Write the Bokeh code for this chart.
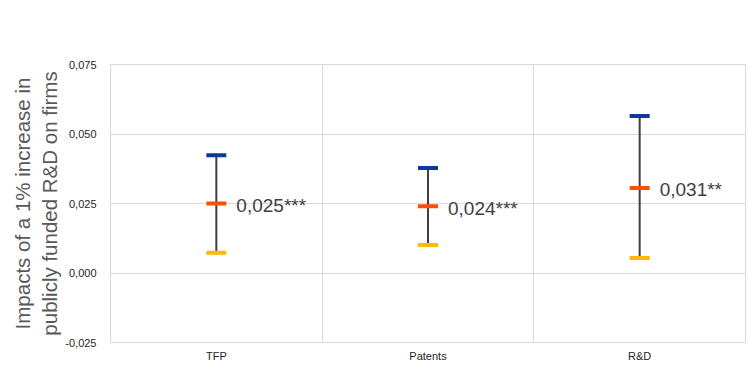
from bokeh.plotting import figure
from bokeh.models import FixedTicker, CustomJSTickFormatter, ColumnDataSource, Range1d
from bokeh.core.properties import value
from bokeh.embed import file_html
from bokeh.resources import INLINE

categories = ["TFP", "Patents", "R&D"]
upper = [0.0424, 0.0378, 0.0565]
estimate = [0.025, 0.024, 0.0306]
lower = [0.0073, 0.0101, 0.0054]
labels = ["0,025***", "0,024***", "0,031**"]
y_ticks = [-0.025, 0.0, 0.025, 0.05, 0.075]

xs = [i + 0.5 for i in range(len(categories))]
src = ColumnDataSource(dict(x=xs, up=upper, est=estimate, lo=lower, lab=labels))

p = figure(width=749, height=371, output_backend="svg", toolbar_location=None,
           x_range=Range1d(0, 3), y_range=Range1d(-0.025, 0.075),
           min_border_left=110, min_border_right=4, min_border_top=64, min_border_bottom=29)
p.outline_line_color = "#d9d9d9"
p.background_fill_color = "white"

p.xgrid.ticker = FixedTicker(ticks=[0, 1, 2, 3])
p.xgrid.grid_line_color = "#d9d9d9"
p.ygrid.grid_line_color = "#d9d9d9"
p.ygrid.ticker = FixedTicker(ticks=y_ticks)

p.xaxis.ticker = FixedTicker(ticks=xs)
p.xaxis.major_label_overrides = {x: c for x, c in zip(xs, categories)}
p.yaxis.ticker = FixedTicker(ticks=y_ticks)
p.yaxis.formatter = CustomJSTickFormatter(code="return tick.toFixed(3).replace('.', ',');")

for ax in (p.xaxis, p.yaxis):
    ax.axis_line_color = None
    ax.major_tick_line_color = None
    ax.minor_tick_line_color = None
    ax.major_label_text_font = "Liberation Sans"
    ax.major_label_text_font_size = "11px"
    ax.major_label_text_color = "#262626"
p.xaxis.major_label_standoff = 1
p.yaxis.major_label_standoff = 8

p.yaxis.axis_label = "Impacts of a 1% increase in\npublicly funded R&D on firms"
p.yaxis.axis_label_text_font = "Liberation Sans"
p.yaxis.axis_label_text_font_size = "20.5px"
p.yaxis.axis_label_text_font_style = "normal"
p.yaxis.axis_label_text_color = "#595959"
p.yaxis.axis_label_standoff = 1

p.segment(x0="x", y0="lo", x1="x", y1="up", source=src, line_color="#404040", line_width=2)
p.rect(x="x", y="up", width=20, height=4, width_units="screen", height_units="screen",
       source=src, fill_color="#0b3a9a", line_color=None)
p.rect(x="x", y="est", width=20, height=4, width_units="screen", height_units="screen",
       source=src, fill_color="#ff5000", line_color=None)
p.rect(x="x", y="lo", width=20, height=4, width_units="screen", height_units="screen",
       source=src, fill_color="#ffb900", line_color=None)
p.text(x="x", y="est", text="lab", source=src, x_offset=20, y_offset=2,
       text_font=value("Liberation Sans"), text_font_size="19px", text_color="#404040",
       text_baseline="middle", text_align="left")

open("out.html", "w").write(file_html(p, INLINE))
